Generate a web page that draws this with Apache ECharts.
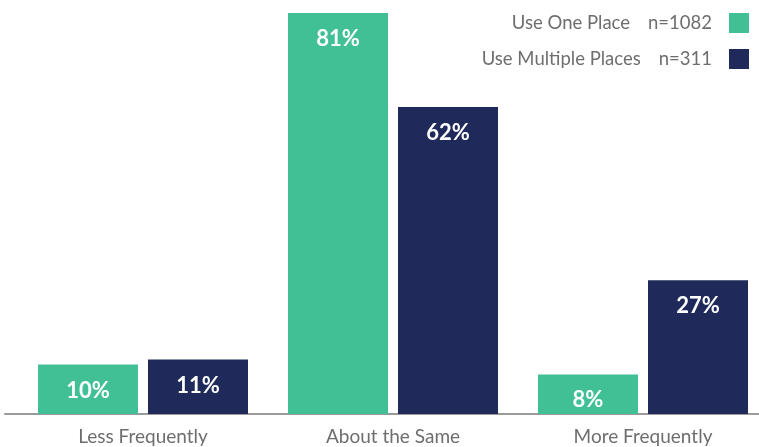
<!DOCTYPE html>
<html>
<head>
<meta charset="utf-8">
<script src="https://cdn.jsdelivr.net/npm/echarts@6/dist/echarts.min.js"></script>
<style>
  html, body { margin: 0; padding: 0; background: #ffffff; }
  #chart { width: 759px; height: 447px; }
</style>
</head>
<body>
<div id="chart"></div>
<script>
// Frequency categories along the x axis
const categories = ['Less Frequently', 'About the Same', 'More Frequently'];

// Respondent groups and their sample sizes
const seriesNames = ['Use One Place', 'Use Multiple Places'];
const sampleSizes = ['n=1082', 'n=311'];

// Share of respondents (%) per category
const onePlaceValues = [10, 81, 8];
const multiplePlacesValues = [11, 62, 27];

const GREEN = '#41C095';
const NAVY = '#1F2A5B';
const GREY_TEXT = '#6E6E6E';
const FONT = 'Lato, "Noto Sans", sans-serif';

const chart = echarts.init(document.getElementById('chart'), null, { renderer: 'canvas' });

const valueLabel = {
  show: true,
  position: 'insideTop',
  distance: 15,
  formatter: p => p.value + '%',
  color: '#ffffff',
  fontFamily: FONT,
  fontWeight: 'bold',
  fontSize: 22
};

const sizeByName = {};
seriesNames.forEach((n, i) => { sizeByName[n] = sampleSizes[i]; });

chart.setOption({
  animation: false,
  backgroundColor: '#ffffff',
  grid: [
    // plot area for the bars (runs slightly past the right edge)
    { left: 18, width: 750, top: 13, bottom: 33, containLabel: false, outerBoundsMode: 'none' },
    // full-width strip that only carries the baseline
    { left: 5, right: 0, top: 13, bottom: 33, containLabel: false, outerBoundsMode: 'none' }
  ],
  legend: {
    orient: 'vertical',
    right: 10,
    top: 13,
    padding: 0,
    align: 'right',
    itemWidth: 20,
    itemHeight: 20,
    itemGap: 16,
    icon: 'rect',
    data: seriesNames,
    formatter: name => '{a|' + name + '}{b|' + sizeByName[name] + '}',
    textStyle: {
      color: GREY_TEXT,
      fontFamily: FONT,
      fontSize: 18,
      lineHeight: 20,
      rich: {
        a: { color: GREY_TEXT, fontFamily: FONT, fontSize: 18.5, lineHeight: 20 },
        b: { color: GREY_TEXT, fontFamily: FONT, fontSize: 18.5, lineHeight: 20, padding: [0, 12, 0, 18] }
      }
    }
  },
  xAxis: [
    {
      gridIndex: 0,
      type: 'category',
      data: categories,
      axisLine: { show: false },
      axisTick: { show: false },
      axisLabel: {
        color: GREY_TEXT,
        fontFamily: FONT,
        fontSize: 19,
        margin: 13
      }
    },
    {
      gridIndex: 1,
      type: 'value',
      min: 0,
      max: 1,
      axisLine: { show: true, lineStyle: { color: '#9A9A9A', width: 2 } },
      axisTick: { show: false },
      axisLabel: { show: false },
      splitLine: { show: false }
    }
  ],
  yAxis: [
    { gridIndex: 0, type: 'value', min: 0, max: 81, show: false, splitLine: { show: false } },
    { gridIndex: 1, type: 'value', min: 0, max: 1, show: false, splitLine: { show: false } }
  ],
  series: [
    {
      name: seriesNames[0],
      type: 'bar',
      xAxisIndex: 0,
      yAxisIndex: 0,
      data: onePlaceValues,
      barWidth: 100,
      barGap: '10%',
      itemStyle: { color: GREEN },
      label: valueLabel
    },
    {
      name: seriesNames[1],
      type: 'bar',
      xAxisIndex: 0,
      yAxisIndex: 0,
      data: multiplePlacesValues,
      barWidth: 100,
      barGap: '10%',
      itemStyle: { color: NAVY },
      label: valueLabel
    }
  ]
});
</script>
</body>
</html>
